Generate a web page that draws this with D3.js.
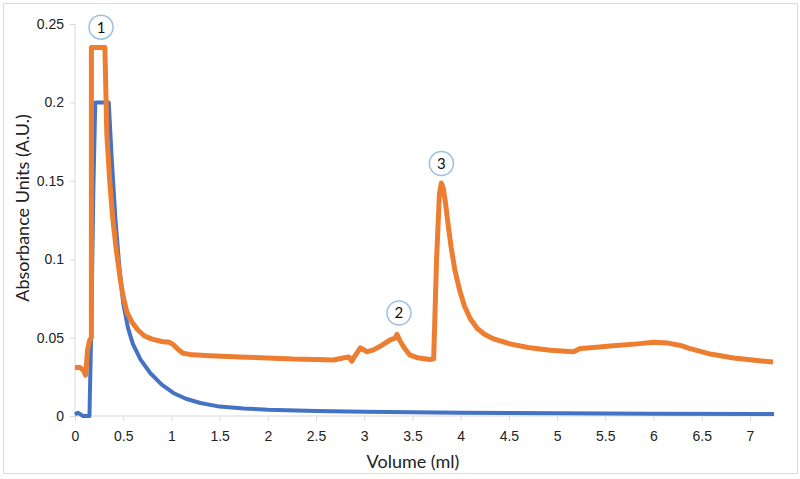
<!DOCTYPE html>
<html>
<head>
<meta charset="utf-8">
<script src="https://cdn.jsdelivr.net/npm/d3@7"></script>
<style>
  body { margin: 0; background: #fff; }
  svg { display: block; font-family: Lato, "Open Sans", sans-serif; }
</style>
</head>
<body>
<div id="chart"></div>
<script>
// Orange trace (volume in ml, absorbance)
const orangeX = [0, 0.05, 0.09, 0.11, 0.13, 0.15, 0.17, 0.17, 0.31, 0.33, 0.36, 0.39, 0.43, 0.47, 0.50, 0.54, 0.59, 0.65, 0.72, 0.80, 0.90, 0.98, 1.02, 1.06, 1.12, 1.22, 1.4, 1.71, 2.0, 2.26, 2.5, 2.68, 2.78, 2.84, 2.87, 2.90, 2.96, 3.03, 3.09, 3.18, 3.27, 3.32, 3.34, 3.37, 3.42, 3.47, 3.55, 3.68, 3.72, 3.75, 3.78, 3.80, 3.82, 3.84, 3.87, 3.90, 3.94, 3.99, 4.04, 4.10, 4.17, 4.25, 4.35, 4.51, 4.70, 4.93, 5.17, 5.24, 5.35, 5.55, 5.83, 6.0, 6.15, 6.28, 6.38, 6.59, 6.83, 7.05, 7.24];
const orangeY = [0.031, 0.031, 0.029, 0.026, 0.042, 0.048, 0.05, 0.235, 0.235, 0.18, 0.15, 0.127, 0.105, 0.087, 0.076, 0.066, 0.060, 0.055, 0.051, 0.049, 0.0475, 0.047, 0.0455, 0.043, 0.040, 0.039, 0.0385, 0.0376, 0.037, 0.0363, 0.036, 0.0357, 0.037, 0.0376, 0.035, 0.038, 0.0434, 0.041, 0.042, 0.045, 0.0485, 0.0497, 0.052, 0.048, 0.043, 0.039, 0.0372, 0.036, 0.0365, 0.10, 0.142, 0.1486, 0.145, 0.137, 0.122, 0.108, 0.093, 0.080, 0.070, 0.062, 0.056, 0.052, 0.049, 0.046, 0.0437, 0.042, 0.041, 0.043, 0.0435, 0.0446, 0.046, 0.047, 0.0465, 0.045, 0.043, 0.0395, 0.037, 0.0355, 0.0344];

// Blue trace
const blueX = [0, 0.03, 0.06, 0.08, 0.15, 0.17, 0.19, 0.21, 0.35, 0.38, 0.42, 0.46, 0.50, 0.55, 0.60, 0.68, 0.78, 0.90, 1.02, 1.15, 1.30, 1.50, 1.75, 2.0, 2.5, 3.0, 3.5, 4.0, 5.0, 6.0, 7.25];
const blueY = [0.001, 0.002, 0.001, 0, 0, 0.06, 0.143, 0.2, 0.2, 0.165, 0.125, 0.095, 0.072, 0.056, 0.046, 0.036, 0.0274, 0.02, 0.0147, 0.011, 0.0083, 0.006, 0.0048, 0.004, 0.0032, 0.0027, 0.0024, 0.0021, 0.0017, 0.0014, 0.0012];

// Ticks
const xTicks = [0, 0.5, 1, 1.5, 2, 2.5, 3, 3.5, 4, 4.5, 5, 5.5, 6, 6.5, 7];
const yTicks = [0, 0.05, 0.1, 0.15, 0.2, 0.25];

// Peak markers
const peakLabels = ['1', '2', '3'];
const peakX = [0.27, 3.36, 3.80];
const peakY = [0.248, 0.0657, 0.161];

const W = 800, H = 479;
const svg = d3.select('#chart').append('svg')
  .attr('width', W)
  .attr('height', H);

// outer frame
svg.append('rect')
  .attr('x', 3.5).attr('y', 3.5)
  .attr('width', 794).attr('height', 470)
  .attr('fill', 'none')
  .attr('stroke', '#dcdcdc');

const x = d3.scaleLinear().domain([0, 7.26]).range([75, 775]);
const y = d3.scaleLinear().domain([0, 0.25]).range([416, 24]);

// Y axis
const yAxis = svg.append('g')
  .attr('transform', `translate(${x(0)},0)`)
  .call(d3.axisLeft(y).tickValues(yTicks).tickSize(5).tickPadding(6).tickFormat(d => String(+d.toFixed(2))));
yAxis.select('.domain').attr('stroke', '#d9d9d9').attr('d', `M-0,${y(0.25)}V${y(0)}`);
yAxis.selectAll('line').attr('stroke', '#d9d9d9');
yAxis.selectAll('text').style('font-size', '14px').attr('fill', '#222');

// X axis
const xAxis = svg.append('g')
  .attr('transform', `translate(0,${y(0)})`)
  .call(d3.axisBottom(x).tickValues(xTicks).tickSize(5).tickPadding(10).tickFormat(d => String(d)));
xAxis.select('.domain').attr('stroke', '#d9d9d9').attr('d', `M${x(0)},0H${x(7.26)}`);
xAxis.selectAll('line').attr('stroke', '#d9d9d9');
xAxis.selectAll('text').style('font-size', '14px').attr('fill', '#222');

// axis titles
svg.append('text')
  .attr('x', 413).attr('y', 468)
  .attr('text-anchor', 'middle')
  .style('font-size', '18px')
  .attr('fill', '#222')
  .text('Volume (ml)');

svg.append('text')
  .attr('transform', 'translate(29,208) rotate(-90)')
  .attr('text-anchor', 'middle')
  .style('font-size', '18px')
  .attr('fill', '#222')
  .text('Absorbance Units (A.U.)');

const line = d3.line()
  .x(d => x(d[0]))
  .y(d => y(d[1]));

svg.append('path')
  .datum(d3.zip(blueX, blueY))
  .attr('fill', 'none')
  .attr('stroke', '#4472c4')
  .attr('stroke-width', 4)
  .attr('stroke-linejoin', 'round')
  .attr('d', line);

svg.append('path')
  .datum(d3.zip(orangeX, orangeY))
  .attr('fill', 'none')
  .attr('stroke', '#ed7d31')
  .attr('stroke-width', 5)
  .attr('stroke-linejoin', 'round')
  .attr('d', line);

// peak markers
const marks = svg.selectAll('g.peak')
  .data(d3.zip(peakLabels, peakX, peakY))
  .join('g')
    .attr('class', 'peak')
    .attr('transform', d => `translate(${x(d[1])},${y(d[2])})`);

marks.append('circle')
  .attr('r', 12)
  .attr('fill', '#fff')
  .attr('stroke', '#9dbfe3')
  .attr('stroke-width', 1.5);

marks.append('text')
  .attr('text-anchor', 'middle')
  .attr('dy', '0.36em')
  .style('font-size', '15px')
  .attr('fill', '#111')
  .text(d => d[0]);
</script>
</body>
</html>
